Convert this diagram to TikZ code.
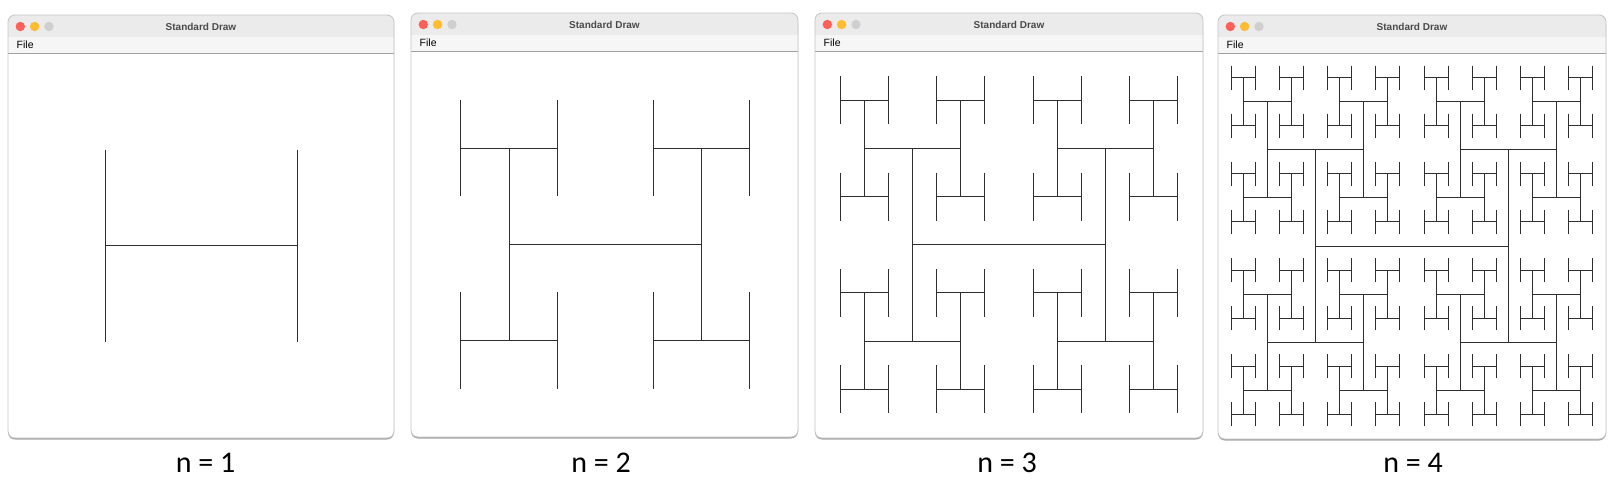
\documentclass[tikz,border=0pt]{standalone}
\usepackage{fontspec}
\setmainfont{Liberation Sans}
\newfontfamily\labelfont{Carlito}
\definecolor{titlegray}{HTML}{EBEBEB}
\definecolor{menugray}{HTML}{F6F6F6}
\definecolor{bordergray}{HTML}{C4C4C4}
\definecolor{shadowgray}{HTML}{A8A8A8}
\definecolor{sepgray}{HTML}{A0A0A0}
\definecolor{titletext}{HTML}{4A4A4A}
\definecolor{tlred}{HTML}{FF5F57}
\definecolor{tlyellow}{HTML}{FEBC2E}
\definecolor{tlgray}{HTML}{CFCFCF}
\tikzset{
  hline/.style={draw=black!82, line width=1pt},
  winborder/.style={draw=bordergray, line width=0.8pt, rounded corners=7pt},
  wintitle/.style={font=\fontsize{10}{12}\selectfont\bfseries, text=titletext, inner sep=0pt},
  winmenu/.style={font=\fontsize{10.5}{12}\selectfont, text=black, inner sep=0pt, anchor=west},
  caption/.style={font=\labelfont\fontsize{30}{34}\selectfont, text=black, inner sep=0pt, anchor=base},
  light/.style={circle, inner sep=0pt, minimum size=9.4pt},
}
% H-tree: #1 depth, #2 size, #3 x, #4 y
\newcommand\htreedraw[4]{%
  \begingroup
  \edef\hlv{#1}\edef\hsz{#2}\edef\hcx{#3}\edef\hcy{#4}%
  \ifnum\hlv>0
    \pgfmathsetmacro\hxa{\hcx-\hsz/2}%
    \pgfmathsetmacro\hxb{\hcx+\hsz/2}%
    \pgfmathsetmacro\hya{\hcy-\hsz/2}%
    \pgfmathsetmacro\hyb{\hcy+\hsz/2}%
    \pgfmathsetmacro\hhs{\hsz/2}%
    \pgfmathtruncatemacro\hdd{\hlv-1}%
    \draw[hline] (\hxa,\hcy) -- (\hxb,\hcy) (\hxa,\hya) -- (\hxa,\hyb) (\hxb,\hya) -- (\hxb,\hyb);
    \htreedraw{\hdd}{\hhs}{\hxa}{\hya}%
    \htreedraw{\hdd}{\hhs}{\hxa}{\hyb}%
    \htreedraw{\hdd}{\hhs}{\hxb}{\hya}%
    \htreedraw{\hdd}{\hhs}{\hxb}{\hyb}%
  \fi
  \endgroup}
% window: #1 name, #2 left, #3 top, #4 right, #5 bottom
\newcommand\stdwindow[5]{%
  \fill[shadowgray, rounded corners=7pt] (#2,#3+2) rectangle (#4,#5+1.5);
  \begin{scope}
    \clip[rounded corners=7pt] (#2,#3) rectangle (#4,#5);
    \fill[white] (#2,#3) rectangle (#4,#5);
    \fill[titlegray] (#2,#3) rectangle (#4,#3+22);
    \fill[menugray] (#2,#3+22) rectangle (#4,#3+38);
    \draw[sepgray, line width=1pt] (#2,#3+38) -- (#4,#3+38);
  \end{scope}
  \draw[winborder] (#2,#3) rectangle (#4,#5);
  \node[light, fill=tlred] (#1-red) at (#2+12.3,#3+11.5) {};
  \node[light, fill=tlyellow] (#1-yellow) at (#2+26.6,#3+11.5) {};
  \node[light, fill=tlgray] (#1-gray) at (#2+41,#3+11.5) {};
  \node[wintitle] (#1-title) at ({(#2+#4)/2},#3+11.5) {Standard Draw};
  \node[winmenu] (#1-menu) at (#2+8.5,#3+30) {File};
}
\begin{document}
\begin{tikzpicture}[x=1pt,y=-1pt]
\useasboundingbox[fill=white] (0,0) rectangle (1618,490);
\stdwindow{w1}{8}{15}{394}{438}
\stdwindow{w2}{411}{13}{798}{437}
\stdwindow{w3}{815}{13}{1203}{438}
\stdwindow{w4}{1218}{15}{1606}{439}
\htreedraw{1}{192.5}{201.5}{245.8}
\htreedraw{2}{192.5}{605.3}{244.3}
\htreedraw{3}{192.5}{1009}{244.8}
\htreedraw{4}{192.5}{1412}{246}
\node[caption] (c1) at (205.5,472) {n = 1};
\node[caption] (c2) at (601,472) {n = 2};
\node[caption] (c3) at (1007,472) {n = 3};
\node[caption] (c4) at (1413,472) {n = 4};
\end{tikzpicture}
\end{document}
